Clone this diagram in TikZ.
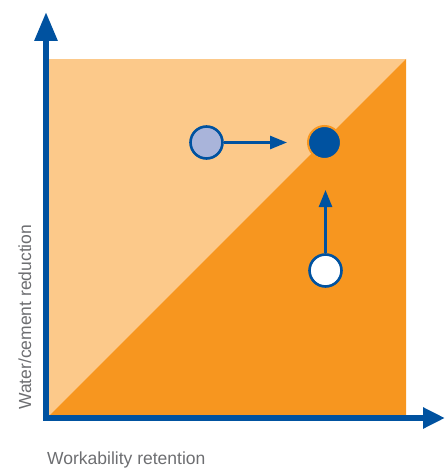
\documentclass[tikz,border=0pt]{standalone}
\usepackage{fontspec}
\setmainfont{Liberation Sans}
\usetikzlibrary{arrows.meta}
\definecolor{lightor}{HTML}{FCC98A}
\definecolor{darkor}{HTML}{F7961F}
\definecolor{axisblue}{HTML}{0052A0}
\definecolor{lav}{HTML}{A9B4DA}
\definecolor{txtgray}{HTML}{6D6E71}
\tikzset{
  axis/.style={draw=axisblue, line width=6pt},
  pt/.style={circle, draw=axisblue, line width=2.6pt, minimum size=32pt, inner sep=0pt},
  move/.style={draw=axisblue, line width=2.6pt, -{Triangle[length=17pt,width=13pt]}},
  lab/.style={text=txtgray, font=\fontsize{17.5}{20}\selectfont, inner sep=0pt}
}
\begin{document}
\begin{tikzpicture}[x=1pt,y=-1pt]
\useasboundingbox (0,0) rectangle (445,468);
\fill[lightor] (49,59) rectangle (406,416);
\fill[darkor] (49,416) -- (406,59) -- (406,416) -- cycle;
\coordinate (o) at (46,418);
\coordinate (ytip) at (46,12);
\coordinate (xtip) at (445,418);
\coordinate (ostart) at (43,418);
\draw[axis, -{Triangle[length=29pt,width=22pt]}] (o) -- (ytip);
\draw[axis, -{Triangle[length=22pt,width=20pt]}] (ostart) -- (xtip);
\node[pt, fill=lav] (a) at (206.5,142.5) {};
\node[pt, fill=axisblue, draw=darkor, line width=2pt, minimum size=33pt] (b) at (324.5,142.5) {};
\node[pt, fill=white] (c) at (325.5,270.5) {};
\coordinate (bend) at (287,142.5);
\coordinate (cend) at (325.5,190);
\draw[move] (a) -- (bend);
\draw[move] (c) -- (cend);
\node[lab, anchor=base west] (xl) at (47,464) {Workability retention};
\node[lab, anchor=base west, rotate=90] (yl) at (31,410) {Water/cement reduction};
\end{tikzpicture}
\end{document}
